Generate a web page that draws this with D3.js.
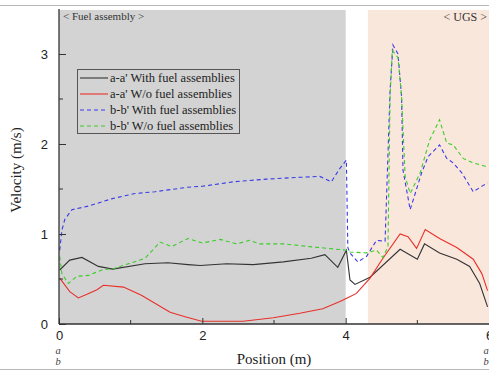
<!DOCTYPE html>
<html><head><meta charset="utf-8">
<script src="https://cdn.jsdelivr.net/npm/d3@7"></script>
<style>body{margin:0;background:#fff}svg{display:block}</style>
</head><body>
<script>
// ---- data ----
const seriesNames = ["a-a' With fuel assemblies","a-a' W/o fuel assemblies","b-b' With fuel assemblies","b-b' W/o fuel assemblies"];
const seriesColors = ["#333333","#e8302a","#3a3ae8","#3ccc2a"];
const seriesDash = [null,null,"4,3","4,3"];
const xTicks = [0,2,4,6];
const yTicks = [0,1,2,3];
const regions = [{x0:0,x1:4,fill:"#d3d3d3"},{x0:4.31,x1:6,fill:"#fae7dc"}];

const aWith = [[0.01,0.6],[0.15,0.71],[0.32,0.74],[0.55,0.64],[0.75,0.61],[1.2,0.67],[1.52,0.68],[1.8,0.66],[1.97,0.65],[2.34,0.67],[2.71,0.66],[3.13,0.69],[3.52,0.73],[3.71,0.77],[3.89,0.63],[4.01,0.82],[4.06,0.49],[4.13,0.44],[4.34,0.52],[4.76,0.83],[5.0,0.72],[5.1,0.89],[5.31,0.79],[5.55,0.72],[5.73,0.64],[5.87,0.45],[5.98,0.19]];
const aWo = [[0.01,0.51],[0.15,0.36],[0.27,0.29],[0.39,0.33],[0.53,0.38],[0.62,0.43],[0.9,0.41],[1.15,0.32],[1.55,0.13],[1.76,0.08],[1.99,0.03],[2.57,0.03],[2.99,0.07],[3.36,0.12],[3.68,0.17],[3.92,0.25],[4.05,0.3],[4.15,0.34],[4.34,0.51],[4.52,0.73],[4.76,1.0],[4.87,0.97],[4.99,0.84],[5.11,1.05],[5.31,0.95],[5.55,0.85],[5.78,0.72],[5.9,0.56],[5.98,0.37]];
const bWith = [[0.01,0.82],[0.04,1.04],[0.08,1.16],[0.18,1.27],[0.41,1.31],[0.73,1.39],[1.06,1.45],[1.34,1.47],[1.8,1.52],[2.0,1.53],[2.43,1.58],[2.9,1.61],[3.36,1.63],[3.64,1.64],[3.8,1.58],[3.92,1.73],[4.01,1.82],[4.03,0.85],[4.06,0.79],[4.17,0.69],[4.29,0.75],[4.43,0.93],[4.55,0.92],[4.62,2.6],[4.66,3.1],[4.73,3.0],[4.78,2.53],[4.8,1.71],[4.9,1.27],[5.06,1.68],[5.15,1.86],[5.31,1.99],[5.41,1.84],[5.5,1.79],[5.62,1.68],[5.78,1.47],[5.92,1.54],[5.98,1.57]];
const bWo = [[0.01,0.75],[0.04,0.56],[0.13,0.45],[0.25,0.53],[0.41,0.54],[0.6,0.6],[0.78,0.62],[1.01,0.68],[1.2,0.73],[1.41,0.91],[1.57,0.86],[1.8,0.95],[2.0,0.9],[2.25,0.94],[2.48,0.89],[2.66,0.93],[2.8,0.89],[3.13,0.89],[3.5,0.86],[4.01,0.82],[4.06,0.8],[4.29,0.79],[4.43,0.82],[4.52,0.74],[4.59,0.86],[4.62,2.53],[4.65,3.04],[4.73,2.96],[4.78,2.53],[4.83,1.64],[4.9,1.45],[5.04,1.68],[5.17,2.04],[5.31,2.27],[5.41,2.01],[5.5,1.99],[5.64,1.84],[5.78,1.79],[5.96,1.75]];
const allSeries = [aWith,aWo,bWith,bWo];

// ---- layout ----
const W=489,H=371;
const svg=d3.select("body").append("svg").attr("width",W).attr("height",H);
const x=d3.scaleLinear().domain([0,6]).range([59,489]);
const y=d3.scaleLinear().domain([0,3.5]).range([324,9]);

svg.append("line").attr("x1",0).attr("x2",W).attr("y1",5.5).attr("y2",5.5).attr("stroke","#b8b8b8").attr("stroke-width",1.2);
svg.append("line").attr("x1",0).attr("x2",W).attr("y1",369.5).attr("y2",369.5).attr("stroke","#b8b8b8").attr("stroke-width",1.2);

svg.selectAll("rect.reg").data(regions).join("rect").attr("class","reg")
  .attr("x",d=>x(d.x0)).attr("width",d=>x(d.x1)-x(d.x0))
  .attr("y",y(3.5)+1).attr("height",y(0)-y(3.5)-1).attr("fill",d=>d.fill);

svg.append("text").attr("x",63).attr("y",20).attr("font-family","Liberation Serif").attr("font-size",11).attr("fill","#333").text("< Fuel assembly >");
svg.append("text").attr("x",487).attr("y",21).attr("text-anchor","end").attr("font-family","Liberation Serif").attr("font-size",12).attr("fill","#333").text("< UGS >");

const line=d3.line().x(d=>x(d[0])).y(d=>y(d[1]));
svg.selectAll("path.s").data(allSeries).join("path").attr("class","s")
  .attr("d",line).attr("fill","none")
  .attr("stroke",(d,i)=>seriesColors[i]).attr("stroke-width",1.1)
  .attr("stroke-dasharray",(d,i)=>seriesDash[i]);

// axes
const yAxis=d3.axisLeft(y).tickValues(yTicks).tickSizeInner(-7).tickSizeOuter(0).tickPadding(11).tickFormat(d3.format("d"));
const gy=svg.append("g").attr("transform",`translate(${x(0)},0)`).call(yAxis);
gy.select(".domain").remove();
gy.selectAll(".tick text").attr("font-family","Liberation Sans").attr("font-size",13).attr("fill","#222");
gy.selectAll(".tick line").attr("stroke","#333");
svg.append("g").selectAll("line").data([0.5,1.5,2.5]).join("line")
  .attr("x1",x(0)).attr("x2",x(0)+4).attr("y1",d=>y(d)).attr("y2",d=>y(d)).attr("stroke","#333");
svg.append("line").attr("x1",x(0)).attr("x2",x(0)).attr("y1",y(3.5)).attr("y2",y(0)).attr("stroke","#333").attr("stroke-width",1.3);

const xAxis=d3.axisBottom(x).tickValues(xTicks).tickSizeInner(-6).tickSizeOuter(0).tickPadding(7).tickFormat(d3.format("d"));
const gx=svg.append("g").attr("transform",`translate(0,${y(0)})`).call(xAxis);
gx.select(".domain").remove();
gx.selectAll(".tick text").attr("font-family","Liberation Sans").attr("font-size",13).attr("fill","#222");
gx.selectAll(".tick line").attr("stroke","#333");
svg.append("g").selectAll("line").data([1,3,5]).join("line")
  .attr("x1",d=>x(d)).attr("x2",d=>x(d)).attr("y1",y(0)).attr("y2",y(0)-4).attr("stroke","#333");
svg.append("line").attr("x1",x(0)).attr("x2",W).attr("y1",y(0)).attr("y2",y(0)).attr("stroke","#333").attr("stroke-width",1.3);

// a / b labels
[0,6].forEach(v=>{
  ["a","b"].forEach((t,i)=>{
    svg.append("text").attr("x",v===6?x(v)-3:x(v)-1).attr("y",354+i*11).attr("text-anchor","middle")
      .attr("font-family","Liberation Serif").attr("font-style","italic").attr("font-size",10.5).attr("fill","#444").text(t);
  });
});

// axis titles
svg.append("text").attr("x",274).attr("y",364).attr("text-anchor","middle").attr("font-family","Liberation Serif").attr("font-size",15).attr("fill","#222").text("Position (m)");
svg.append("text").attr("transform","translate(21,170) rotate(-90)").attr("text-anchor","middle").attr("font-family","Liberation Serif").attr("font-size",15).attr("fill","#222").text("Velocity (m/s)");

// legend
const lg=svg.append("g");
lg.append("rect").attr("x",77.5).attr("y",69.5).attr("width",162).attr("height",64).attr("fill","none").attr("stroke","#555").attr("stroke-width",1);
seriesNames.forEach((n,i)=>{
  const yy=78+i*16;
  lg.append("line").attr("x1",80).attr("x2",108).attr("y1",yy).attr("y2",yy)
    .attr("stroke",seriesColors[i]).attr("stroke-width",1.1).attr("stroke-dasharray",seriesDash[i]);
  lg.append("text").attr("x",110).attr("y",yy+4).attr("font-family","Liberation Serif").attr("font-size",12.5).attr("fill","#222").text(n);
});
</script>
</body></html>
